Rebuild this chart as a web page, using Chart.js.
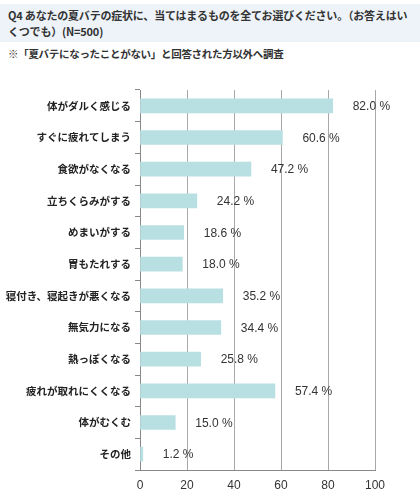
<!DOCTYPE html>
<html>
<head>
<meta charset="utf-8">
<script src="https://cdn.jsdelivr.net/npm/chart.js@4"></script>
<style>
  body { margin: 0; background: #fff; font-family: "Noto Sans CJK JP", sans-serif; }
  #wrap { position: relative; width: 420px; height: 500px; overflow: hidden; }
  #title {
    position: absolute; left: 0; top: 4px; width: 420px; height: 38px;
    background: #eef3f9; color: #333; font-size: 11px; font-weight: bold;
    line-height: 16px; padding: 3px 0 0 8px; box-sizing: border-box;
    letter-spacing: -0.2px; white-space: nowrap;
  }
  #note {
    position: absolute; left: 8px; top: 47px; font-size: 10.5px; color: #333;
    font-weight: bold; letter-spacing: -0.3px; white-space: nowrap; line-height: 14px;
  }
  #box { position: absolute; left: 0; top: 70px; width: 420px; height: 430px; }
</style>
</head>
<body>
<div id="wrap">
  <div id="title">Q4 あなたの夏バテの症状に、当てはまるものを全てお選びください。（お答えはい<br>くつでも）(N=500)</div>
  <div id="note">※「夏バテになったことがない」と回答された方以外へ調査</div>
  <div id="box"><canvas id="grafico"></canvas></div>
</div>
<script>
// Datos
const sintomas = [
  "体がダルく感じる",
  "すぐに疲れてしまう",
  "食欲がなくなる",
  "立ちくらみがする",
  "めまいがする",
  "胃もたれする",
  "寝付き、寝起きが悪くなる",
  "無気力になる",
  "熱っぽくなる",
  "疲れが取れにくくなる",
  "体がむくむ",
  "その他"
];
const porcentajes = [82.0, 60.6, 47.2, 24.2, 18.6, 18.0, 35.2, 34.4, 25.8, 57.4, 15.0, 1.2];
const ticksX = [0, 20, 40, 60, 80, 100];

const fuente = '"Noto Sans CJK JP", sans-serif';
const fuenteNum = '"Liberation Sans", Arial, sans-serif';

// Etiquetas de valor a la derecha de cada barra
const etiquetas = {
  id: "etiquetas",
  afterDatasetsDraw(chart) {
    const ctx = chart.ctx;
    const meta = chart.getDatasetMeta(0);
    ctx.save();
    ctx.font = "12px " + fuenteNum;
    ctx.fillStyle = "#333";
    ctx.textAlign = "left";
    ctx.textBaseline = "middle";
    meta.data.forEach((bar, i) => {
      ctx.fillText(porcentajes[i].toFixed(1) + " %", bar.x + 20, bar.y + 1);
    });
    ctx.restore();
  }
};

let chart1 = document.getElementById("grafico").getContext("2d");
let graf = new Chart(chart1, {
  type: "bar",
  data: {
    labels: sintomas,
    datasets: [
      {
        data: porcentajes,
        backgroundColor: "#b8dfe2",
        borderWidth: 0,
        barThickness: 14,
      },
    ],
  },
  options: {
    indexAxis: "y",
    responsive: true,
    maintainAspectRatio: false,
    animation: false,
    layout: { padding: { top: 20, right: 45, left: 0, bottom: 0 } },
    plugins: {
      legend: { display: false },
      tooltip: { enabled: false },
    },
    scales: {
      x: {
        min: 0,
        max: 100,
        afterBuildTicks: (s) => { s.ticks = ticksX.map((v) => ({ value: v })); },
        afterFit: (s) => { s.height = 30; },
        grid: { color: "#a8a8a8", lineWidth: 1, drawTicks: false },
        border: { color: "#888", width: 1 },
        ticks: {
          color: "#333",
          padding: 8,
          font: { family: fuenteNum, size: 12 },
        },
      },
      y: {
        afterFit: (s) => { s.width = 140; },
        grid: {
          offset: true,
          drawOnChartArea: false,
          tickLength: 5,
          color: "#888",
        },
        border: { color: "#888", width: 1 },
        ticks: {
          color: "#222",
          padding: 4,
          font: { family: fuente, size: 10.5, weight: "bold" },
        },
      },
    },
  },
  plugins: [etiquetas],
});
</script>
</body>
</html>
